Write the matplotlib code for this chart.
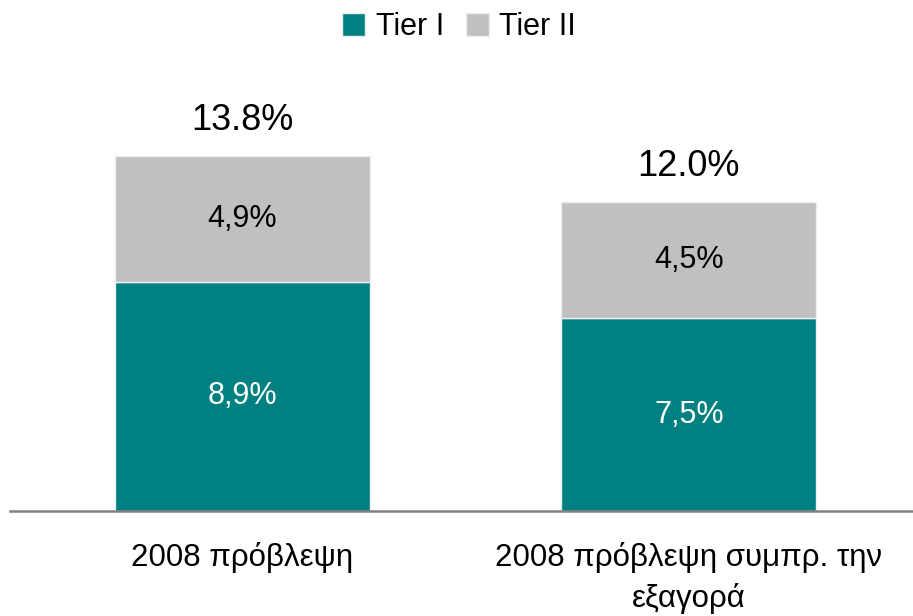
import matplotlib.pyplot as plt
from matplotlib.patches import Patch

plt.rcParams['font.family'] = ['Liberation Sans', 'DejaVu Sans']

categories = ["2008 πρόβλεψη", "2008 πρόβλεψη συμπρ. την\nεξαγορά"]
tier1 = [8.9, 7.5]
tier2 = [4.9, 4.5]
tier1_labels = ["8,9%", "7,5%"]
tier2_labels = ["4,9%", "4,5%"]
totals_labels = ["13.8%", "12.0%"]

teal = "#008080"
grey = "#C0C0C0"

fig = plt.figure(figsize=(9.13, 6.16), dpi=100)
ax = fig.add_axes([10 / 913, 105 / 616, 903 / 913, 411.7 / 616])

x = list(range(len(categories)))
b1 = ax.bar(x, tier1, width=0.571, color=teal, edgecolor="#EEEEEE", linewidth=1)
b2 = ax.bar(x, tier2, bottom=tier1, width=0.571, color=grey, edgecolor="#EEEEEE", linewidth=1)

for i in x:
    ax.text(i, tier1[i] / 2, tier1_labels[i], ha="center", va="center", fontsize=22, color="white")
    ax.text(i, tier1[i] + tier2[i] / 2, tier2_labels[i], ha="center", va="center", fontsize=22, color="black")
    ax.annotate(totals_labels[i], (i, tier1[i] + tier2[i]), xytext=(0, 13), textcoords="offset points",
                ha="center", va="bottom", fontsize=26, color="black")

ax.set_xlim(-0.521, 1.502)
ax.set_ylim(0, 16)
ax.set_xticks(x)
ax.set_xticklabels(categories, fontsize=22.5, linespacing=1.45)
ax.tick_params(axis="x", length=0, pad=22)
ax.set_yticks([])
for side in ["top", "right", "left"]:
    ax.spines[side].set_visible(False)
ax.spines["bottom"].set_color("#808080")
ax.spines["bottom"].set_linewidth(1.8)

handles = [Patch(facecolor=teal, edgecolor="#EEEEEE"), Patch(facecolor=grey, edgecolor="#EEEEEE")]
fig.legend(handles, ["Tier I", "Tier II"], loc="upper center", bbox_to_anchor=(0.503, 1.025), ncol=2,
           frameon=False, fontsize=22, handlelength=0.75, handleheight=0.75, handletextpad=0.35,
           columnspacing=0.7)

fig.savefig("out.png", dpi=100)
